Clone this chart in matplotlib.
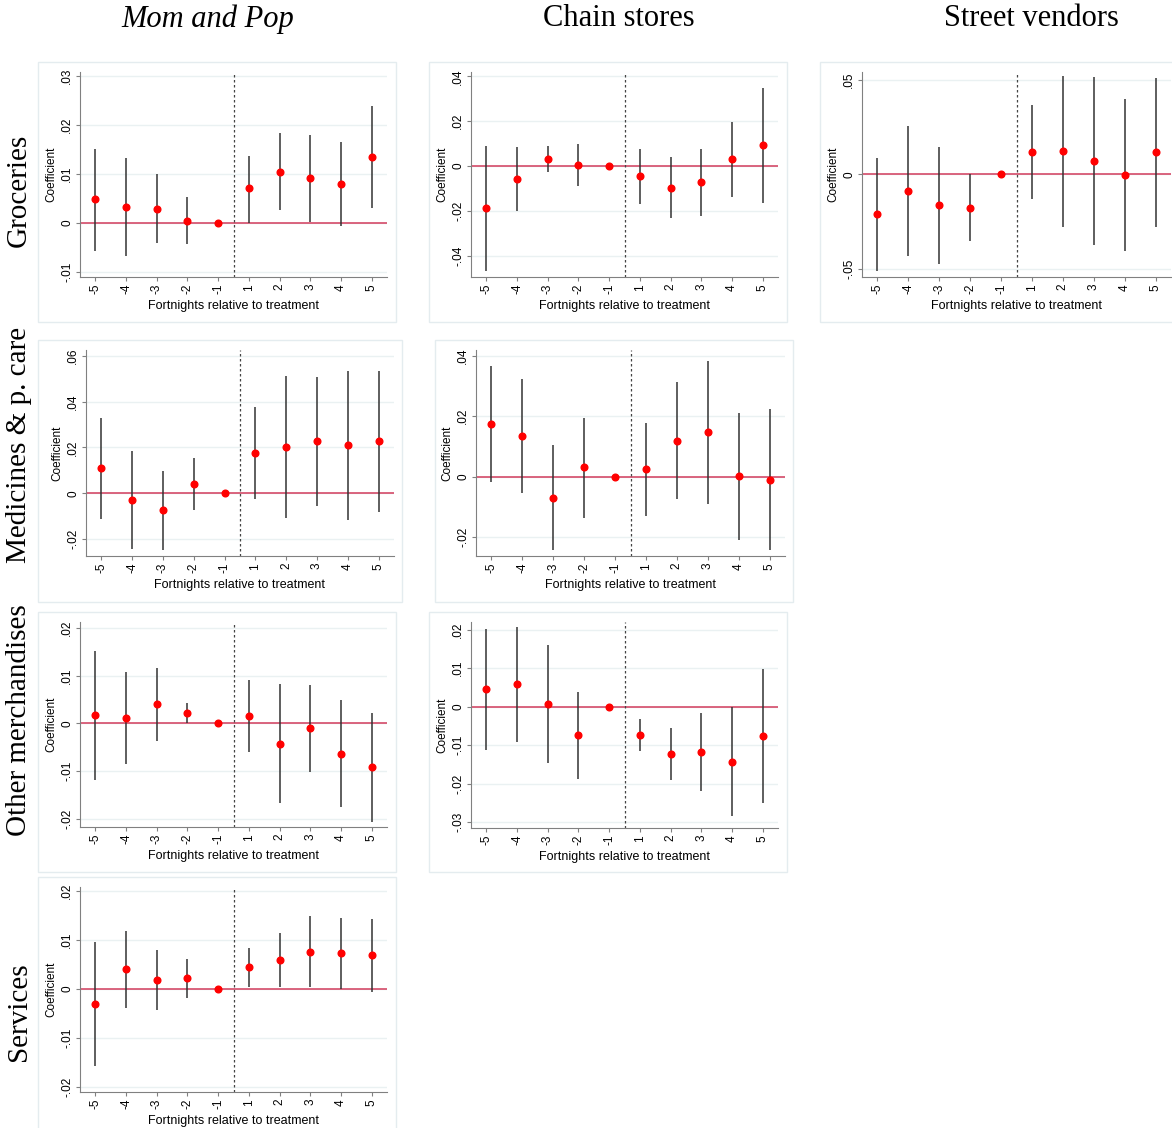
import matplotlib.pyplot as plt
from matplotlib.patches import Rectangle
from matplotlib.ticker import FuncFormatter

plt.rcParams['font.family'] = ['Liberation Sans', 'DejaVu Sans']

periods = ['-5', '-4', '-3', '-2', '-1', '1', '2', '3', '4', '5']
col_titles = ['Mom and Pop', 'Chain stores', 'Street vendors']
row_titles = ['Groceries', 'Medicines & p. care', 'Other merchandises', 'Services']

# groceries
gro_mp_coef = [0.0048, 0.0032, 0.0029, 0.0004, 0.0, 0.0070, 0.0104, 0.0091, 0.0079, 0.0134]
gro_mp_lo = [-0.0057, -0.0068, -0.0042, -0.0043, 0.0, 0.0000, 0.0026, 0.0002, -0.0007, 0.0030]
gro_mp_hi = [0.0151, 0.0133, 0.0099, 0.0052, 0.0, 0.0137, 0.0183, 0.0179, 0.0165, 0.0239]

gro_ch_coef = [-0.0189, -0.0059, 0.0031, 0.0003, 0.0, -0.0046, -0.0097, -0.0073, 0.0030, 0.0092]
gro_ch_lo = [-0.0468, -0.0202, -0.0025, -0.0091, 0.0, -0.0168, -0.0232, -0.0222, -0.0138, -0.0165]
gro_ch_hi = [0.0091, 0.0085, 0.0089, 0.0097, 0.0, 0.0074, 0.0040, 0.0076, 0.0195, 0.0348]

gro_sv_coef = [-0.0211, -0.0088, -0.0164, -0.0176, 0.0, 0.0118, 0.0121, 0.0069, -0.0002, 0.0116]
gro_sv_lo = [-0.0511, -0.0431, -0.0474, -0.0352, 0.0, -0.0130, -0.0276, -0.0375, -0.0405, -0.0278]
gro_sv_hi = [0.0088, 0.0254, 0.0143, 0.0000, 0.0, 0.0368, 0.0519, 0.0511, 0.0400, 0.0509]

# medicines & personal care
med_mp_coef = [0.0110, -0.0030, -0.0075, 0.0039, 0.0, 0.0177, 0.0201, 0.0226, 0.0209, 0.0226]
med_mp_lo = [-0.0112, -0.0245, -0.0249, -0.0075, 0.0, -0.0025, -0.0110, -0.0057, -0.0119, -0.0081]
med_mp_hi = [0.0330, 0.0184, 0.0097, 0.0152, 0.0, 0.0378, 0.0510, 0.0509, 0.0535, 0.0533]

med_ch_coef = [0.0175, 0.0133, -0.0071, 0.0030, 0.0, 0.0025, 0.0119, 0.0146, 0.0001, -0.0010]
med_ch_lo = [-0.0019, -0.0056, -0.0244, -0.0136, 0.0, -0.0129, -0.0075, -0.0091, -0.0210, -0.0244]
med_ch_hi = [0.0366, 0.0322, 0.0103, 0.0193, 0.0, 0.0177, 0.0312, 0.0382, 0.0209, 0.0224]

# other merchandises
oth_mp_coef = [0.0017, 0.0012, 0.0040, 0.0022, 0.0, 0.0015, -0.0043, -0.0010, -0.0064, -0.0092]
oth_mp_lo = [-0.0119, -0.0085, -0.0038, 0.0000, 0.0, -0.0060, -0.0167, -0.0101, -0.0176, -0.0206]
oth_mp_hi = [0.0151, 0.0108, 0.0116, 0.0043, 0.0, 0.0091, 0.0083, 0.0081, 0.0048, 0.0021]

oth_ch_coef = [0.0046, 0.0058, 0.0007, -0.0074, 0.0, -0.0074, -0.0122, -0.0118, -0.0143, -0.0075]
oth_ch_lo = [-0.0112, -0.0091, -0.0146, -0.0188, 0.0, -0.0116, -0.0190, -0.0220, -0.0283, -0.0249]
oth_ch_hi = [0.0203, 0.0207, 0.0160, 0.0037, 0.0, -0.0032, -0.0054, -0.0016, 0.0000, 0.0099]

# services
ser_mp_coef = [-0.0031, 0.0040, 0.0018, 0.0022, 0.0, 0.0044, 0.0060, 0.0076, 0.0073, 0.0069]
ser_mp_lo = [-0.0158, -0.0039, -0.0043, -0.0018, 0.0, 0.0004, 0.0004, 0.0004, 0.0000, -0.0006]
ser_mp_hi = [0.0095, 0.0118, 0.0079, 0.0061, 0.0, 0.0084, 0.0114, 0.0148, 0.0144, 0.0142]

W, H = 1172, 1128
fig = plt.figure(figsize=(W / 100, H / 100), dpi=100)
fig.patch.set_facecolor('white')


def stata_fmt(v, pos):
    v = round(v, 4)
    if v == 0:
        return '0'
    return f'{v:g}'.replace('0.', '.')


def panel(box, axbox, coef, lo, hi, yticks, ylim):
    bx0, by0, bx1, by1 = box
    fig.patches.append(Rectangle((bx0 / W, 1 - by1 / H), (bx1 - bx0) / W, (by1 - by0) / H,
                                 transform=fig.transFigure, fill=False,
                                 edgecolor='#e4ecef', lw=1))
    x0, y0, x1, y1 = axbox
    ax = fig.add_axes([x0 / W, 1 - y1 / H, (x1 - x0) / W, (y1 - y0) / H])
    xs = list(range(len(periods)))
    ax.axhline(0, color='#d23c5c', lw=1.1, zorder=2)
    ax.axvline(4.5, color='#444444', lw=0.9, ls=(0, (2, 2)), zorder=2)
    ax.vlines(xs, lo, hi, color='#333333', lw=1.1, zorder=3)
    ax.plot(xs, coef, 'o', color='red', ms=4.8, zorder=4)
    ax.set_xlim(-0.5, 9.5)
    ax.set_ylim(*ylim)
    ax.set_xticks(xs)
    ax.set_xticklabels(periods, rotation=90)
    ax.set_yticks(yticks)
    ax.yaxis.set_major_formatter(FuncFormatter(stata_fmt))
    ax.tick_params(axis='y', labelrotation=90, length=3, color='#808080', labelsize=8.5, pad=2)
    ax.tick_params(axis='x', length=3, color='#808080', labelsize=8.5, pad=2)
    for lbl in ax.get_yticklabels():
        lbl.set_va('center')
    ax.grid(axis='y', color='#eaf1f2', lw=1)
    ax.set_axisbelow(True)
    for s in ['top', 'right']:
        ax.spines[s].set_visible(False)
    for s in ['left', 'bottom']:
        ax.spines[s].set_color('#808080')
    ax.set_ylabel('Coefficient', fontsize=8.5, labelpad=3)
    ax.set_xlabel('Fortnights relative to treatment', fontsize=9, labelpad=4)
    return ax


panel((38, 62, 396, 322), (80, 72, 387, 277), gro_mp_coef, gro_mp_lo, gro_mp_hi,
      [-0.01, 0, 0.01, 0.02, 0.03], (-0.0111, 0.0308))
panel((429, 62, 787, 322), (471, 72, 778, 277), gro_ch_coef, gro_ch_lo, gro_ch_hi,
      [-0.04, -0.02, 0, 0.02, 0.04], (-0.0495, 0.0419))
panel((820, 62, 1180, 322), (862, 72, 1171, 277), gro_sv_coef, gro_sv_lo, gro_sv_hi,
      [-0.05, 0, 0.05], (-0.0542, 0.054))
panel((38, 340, 402, 602), (86, 350, 394, 556), med_mp_coef, med_mp_lo, med_mp_hi,
      [-0.02, 0, 0.02, 0.04, 0.06], (-0.0274, 0.0625))
panel((435, 340, 793, 602), (476, 350, 785, 556), med_ch_coef, med_ch_lo, med_ch_hi,
      [-0.02, 0, 0.02, 0.04], (-0.0263, 0.0419))
panel((38, 612, 396, 872), (80, 622, 387, 827), oth_mp_coef, oth_mp_lo, oth_mp_hi,
      [-0.02, -0.01, 0, 0.01, 0.02], (-0.0217, 0.0212))
panel((429, 612, 787, 872), (471, 622, 778, 828), oth_ch_coef, oth_ch_lo, oth_ch_hi,
      [-0.03, -0.02, -0.01, 0, 0.01, 0.02], (-0.0315, 0.022))
panel((38, 877, 396, 1140), (80, 887, 387, 1092), ser_mp_coef, ser_mp_lo, ser_mp_hi,
      [-0.02, -0.01, 0, 0.01, 0.02], (-0.021, 0.0208))

serif = ['Liberation Serif', 'DejaVu Serif']
for cx, t in zip([208, 619, 1031], col_titles):
    fig.text(cx / W, 1 - 19 / H, t, family=serif, size=22, ha='center', va='center',
             style='italic' if t == 'Mom and Pop' else 'normal')
for cy, t in zip([190, 445, 720, 1012], row_titles):
    fig.text(19 / W, 1 - cy / H, t, family=serif, size=21, rotation=90,
             ha='center', va='center')

fig.savefig('out.png', dpi=100)
